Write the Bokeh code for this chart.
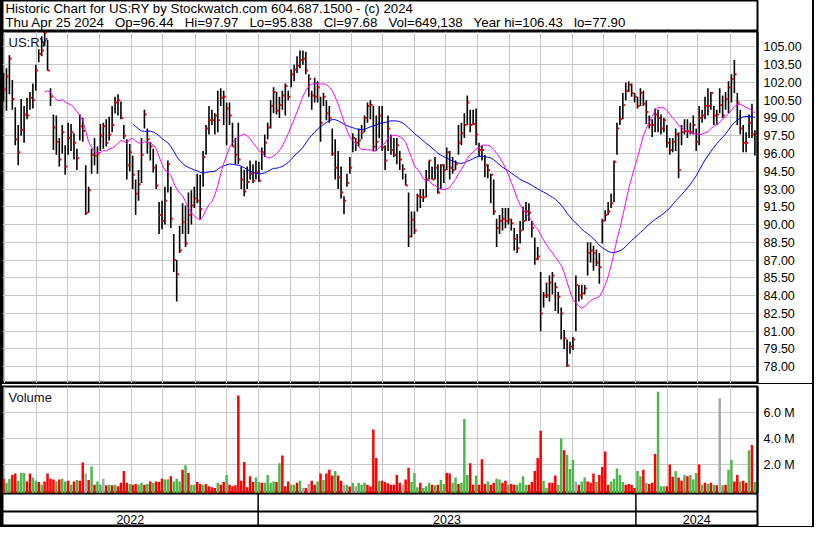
import sys
import pandas as pd
from bokeh.plotting import figure
from bokeh.models import (ColumnDataSource, Range1d, FixedTicker, MonthsTicker,
                          PrintfTickFormatter, Label, Span, Grid, Div)
from bokeh.layouts import column
from bokeh.transform import factor_cmap, dodge
from bokeh.core.properties import value
from bokeh.embed import file_html
from bokeh.resources import INLINE

# ---------------- data ----------------
SP = " \u00a0 "   # a wide gap that SVG does not collapse
title_line1 = "Historic Chart for US:RY by Stockwatch.com 604.687.1500 - (c) 2024"
title_line2 = SP.join(["Thu Apr 25 2024", "Op=96.44", "Hi=97.97", "Lo=95.838",
                       "Cl=97.68", "Vol=649,138", "Year hi=106.43", "lo=77.90"])
symbol = "US:RY"
volume_title = "Volume"

first_date = "2022-04-30"      # first bar
last_date = "2024-04-25"       # last bar
view_start = "2022-04-29"
view_end = "2024-04-27 12:00"

price_ticks = [78.00, 79.50, 81.00, 82.50, 84.00, 85.50, 87.00, 88.50, 90.00, 91.50,
               93.00, 94.50, 96.00, 97.50, 99.00, 100.50, 102.00, 103.50, 105.00]
price_range = (76.58, 106.3)
vol_ticks = [2.0, 4.0, 6.0]
vol_range = (-0.23, 8.0)
years = ["2022", "2023", "2024"]
MA_FAST = 15
MA_SLOW = 45

high = [102.8, 103.2, 104.3, 102.2, 99.9, 98.4, 100.6, 100.0, 100.7, 101.2,
        101.9, 103.5, 104.8, 105.9, 106.4, 105.6, 101.5, 99.3, 99.2, 97.3,
        98.4, 96.7, 98.6, 98.5, 97.7, 96.4, 99.3, 99.0, 95.0, 93.2,
        96.4, 97.3, 96.6, 98.5, 98.6, 98.9, 99.1, 100.0, 100.8, 101.0,
        100.4, 98.4, 97.2, 96.8, 95.8, 93.8, 94.6, 97.3, 99.7, 98.1,
        97.0, 96.4, 95.1, 91.9, 92.0, 93.2, 95.4, 93.2, 89.2, 87.0,
        89.9, 91.8, 91.6, 92.7, 92.9, 93.2, 94.3, 94.2, 96.2, 98.4,
        100.0, 99.7, 99.4, 101.3, 101.5, 101.3, 100.3, 100.3, 98.6, 97.3,
        98.6, 94.9, 94.6, 94.9, 95.4, 95.1, 95.4, 95.3, 96.5, 97.6,
        98.6, 100.5, 101.6, 101.2, 100.8, 101.3, 101.9, 101.3, 103.1, 103.5,
        104.2, 104.7, 104.7, 104.6, 102.7, 101.3, 102.4, 102.1, 100.8, 101.1,
        100.5, 100.0, 98.1, 97.2, 96.2, 94.9, 92.4, 94.3, 95.7, 97.7,
        97.3, 98.1, 98.4, 99.2, 100.3, 100.5, 100.0, 99.2, 100.0, 100.0,
        96.7, 99.2, 97.6, 97.3, 97.3, 96.2, 95.1, 94.3, 92.7, 91.1,
        91.1, 92.6, 93.0, 93.0, 94.6, 95.4, 94.9, 95.7, 95.1, 95.1,
        95.1, 96.5, 96.2, 95.7, 95.4, 98.4, 98.6, 99.4, 100.9, 99.7,
        99.7, 99.8, 96.9, 96.7, 95.9, 95.1, 94.3, 93.8, 90.5, 90.8,
        91.4, 91.4, 91.4, 90.5, 89.7, 89.2, 90.3, 91.5, 91.9, 91.8,
        90.3, 88.9, 88.1, 86.0, 84.3, 85.1, 85.7, 86.0, 85.1, 84.3,
        83.0, 81.1, 80.3, 80.1, 80.5, 85.7, 84.9, 84.9, 84.9, 88.5,
        88.5, 88.2, 87.9, 87.6, 90.5, 91.2, 91.9, 92.6, 95.4, 98.6,
        100.0, 101.1, 102.0, 102.1, 101.9, 101.1, 100.8, 101.5, 101.3, 100.5,
        99.2, 98.9, 99.8, 99.7, 99.3, 99.0, 98.4, 97.3, 97.3, 98.1,
        97.8, 98.4, 98.9, 98.9, 98.6, 99.2, 98.1, 100.0, 99.7, 100.8,
        101.5, 101.2, 100.0, 99.7, 101.5, 100.9, 101.2, 102.1, 102.7, 103.9,
        101.1, 99.7, 98.4, 97.8, 99.3, 100.2, 97.97]

low = [100.4, 99.6, 101.0, 99.7, 96.7, 95.0, 97.5, 96.9, 98.9, 99.7,
       99.8, 101.3, 103.7, 104.2, 105.1, 103.0, 100.0, 96.3, 95.9, 94.9,
       96.0, 94.2, 95.9, 96.2, 95.5, 94.6, 97.1, 97.0, 90.8, 91.0,
       94.3, 95.0, 94.3, 96.2, 96.4, 96.6, 97.1, 97.8, 99.4, 99.2,
       98.9, 97.2, 93.8, 94.5, 93.0, 90.8, 92.0, 93.5, 98.1, 96.0,
       95.4, 94.4, 93.0, 89.2, 89.6, 90.0, 92.7, 89.7, 86.0, 83.5,
       87.6, 89.2, 88.1, 89.2, 90.0, 91.4, 91.8, 90.4, 93.2, 95.9,
       97.6, 98.4, 97.6, 97.8, 100.0, 98.4, 96.7, 98.4, 96.6, 95.1,
       95.1, 93.0, 92.4, 93.0, 93.8, 93.5, 93.8, 93.6, 94.6, 95.7,
       97.2, 98.1, 99.4, 99.3, 99.0, 99.7, 99.2, 100.5, 101.6, 102.1,
       102.8, 103.2, 103.5, 102.7, 100.8, 99.7, 100.3, 100.3, 97.0, 100.0,
       98.8, 98.6, 95.8, 93.8, 93.0, 92.2, 90.9, 93.2, 94.3, 96.1,
       96.2, 96.6, 97.2, 97.8, 98.6, 98.9, 96.2, 96.2, 97.3, 96.2,
       94.6, 96.2, 95.9, 95.7, 95.1, 94.6, 93.8, 93.3, 88.1, 88.9,
       89.2, 91.1, 91.4, 91.9, 92.3, 93.8, 93.8, 93.8, 92.6, 93.0,
       93.5, 94.6, 93.8, 94.3, 94.6, 95.9, 96.7, 97.3, 98.4, 97.8,
       98.4, 96.7, 95.7, 95.4, 94.0, 93.9, 91.8, 90.8, 88.1, 89.2,
       89.5, 89.7, 90.0, 89.5, 87.8, 87.6, 88.4, 89.5, 90.3, 90.3,
       88.9, 86.6, 87.0, 81.0, 83.0, 83.8, 83.5, 84.1, 82.7, 82.5,
       80.3, 79.5, 78.0, 79.1, 79.4, 81.0, 83.5, 83.7, 84.1, 85.7,
       86.8, 86.1, 86.5, 85.0, 88.4, 90.3, 90.8, 91.4, 91.9, 95.9,
       98.4, 98.9, 100.5, 101.2, 100.8, 100.3, 99.8, 100.0, 100.0, 98.5,
       98.1, 97.4, 97.8, 97.8, 97.6, 97.8, 96.5, 95.9, 96.1, 96.2,
       93.9, 96.7, 97.6, 97.3, 97.6, 97.6, 96.2, 96.7, 98.6, 98.9,
       99.2, 99.7, 98.4, 98.4, 99.4, 99.0, 99.7, 99.4, 100.3, 101.1,
       98.4, 97.6, 96.1, 96.1, 97.3, 97.3, 95.84]

close = [101.4, 102.5, 104.0, 100.6, 97.2, 96.1, 98.0, 99.3, 99.2, 100.7,
         100.5, 103.0, 104.4, 104.7, 106.2, 103.0, 100.8, 98.2, 97.0, 95.5,
         97.8, 94.9, 97.3, 97.8, 96.9, 95.6, 98.3, 97.9, 91.0, 92.9,
         95.9, 95.8, 96.0, 97.5, 98.3, 96.9, 97.6, 98.4, 100.3, 100.5,
         99.0, 97.5, 95.0, 96.1, 94.2, 92.6, 93.4, 95.9, 99.3, 97.2,
         96.6, 94.8, 93.3, 90.8, 90.3, 92.0, 95.1, 90.5, 87.0, 85.8,
         87.8, 90.2, 88.4, 90.8, 91.6, 92.2, 92.0, 91.3, 95.7, 98.1,
         98.8, 98.8, 99.2, 98.8, 100.7, 100.8, 99.8, 99.2, 96.6, 95.9,
         95.5, 93.8, 92.8, 93.6, 94.3, 93.7, 94.4, 93.7, 96.1, 96.9,
         98.2, 100.0, 101.2, 99.6, 100.1, 100.9, 101.7, 100.8, 102.7, 103.1,
         103.4, 103.9, 104.0, 103.0, 102.3, 100.9, 100.8, 101.6, 98.6, 100.8,
         99.4, 99.0, 96.0, 94.8, 94.0, 92.7, 92.0, 93.5, 94.8, 97.3,
         96.9, 97.1, 97.8, 99.0, 100.0, 100.1, 96.6, 97.0, 99.2, 96.5,
         95.4, 98.1, 96.3, 95.9, 96.7, 95.5, 94.7, 93.3, 89.0, 90.4,
         89.5, 92.4, 92.3, 92.3, 93.8, 95.4, 93.8, 94.8, 92.7, 95.0,
         94.6, 96.1, 94.8, 94.6, 95.1, 96.9, 97.7, 98.4, 100.3, 98.4,
         98.5, 97.6, 96.3, 96.3, 95.0, 94.6, 94.2, 91.1, 89.7, 90.3,
         90.5, 90.3, 90.4, 90.1, 88.8, 88.0, 89.5, 90.3, 91.1, 91.0,
         89.7, 87.1, 87.3, 82.5, 84.0, 84.0, 85.1, 85.7, 84.7, 83.9,
         82.5, 80.4, 78.1, 79.7, 80.3, 84.9, 84.0, 84.2, 84.6, 87.6,
         87.8, 87.6, 86.8, 86.4, 90.3, 90.8, 91.1, 91.8, 95.3, 98.1,
         98.9, 100.1, 101.3, 101.8, 101.1, 100.8, 100.0, 101.1, 100.2, 99.5,
         98.4, 98.4, 99.3, 99.0, 98.1, 98.8, 96.9, 96.3, 97.0, 97.6,
         94.6, 97.8, 97.9, 97.9, 97.8, 98.4, 97.0, 99.0, 99.2, 100.0,
         100.0, 101.1, 99.2, 99.3, 100.1, 99.2, 100.6, 101.6, 102.3, 102.7,
         100.3, 98.1, 96.9, 96.9, 98.6, 97.6, 97.68]

# volume in millions of shares
volume_m = [0.9, 0.6, 0.9, 1.2, 1.3, 0.75, 1.35, 1.35, 0.7, 1.3,
            1.0, 0.75, 0.65, 0.45, 0.7, 1.3, 0.9, 0.85, 0.7, 0.85,
            0.9, 0.7, 0.75, 0.45, 0.7, 0.8, 0.75, 2.15, 1.3, 0.8,
            1.85, 0.45, 0.7, 0.45, 0.9, 0.4, 0.45, 0.4, 0.45, 0.33,
            0.6, 1.5, 0.6, 0.5, 0.45, 0.5, 0.45, 0.6, 0.45, 0.5,
            0.7, 0.6, 0.7, 0.65, 0.9, 0.85, 0.85, 1.1, 0.7, 0.9,
            0.7, 1.6, 1.95, 1.35, 0.45, 0.45, 0.65, 0.5, 0.45, 0.5,
            0.33, 0.25, 0.2, 0.6, 0.45, 0.65, 1.2, 0.45, 0.33, 0.4,
            7.3, 0.75, 2.2, 0.25, 1.1, 0.65, 1.0, 0.65, 0.6, 0.6,
            1.2, 0.6, 0.7, 0.65, 2.1, 2.7, 0.33, 0.7, 0.45, 0.45,
            0.6, 0.75, 0.2, 0.2, 0.5, 0.75, 0.45, 0.7, 1.3, 0.8,
            1.3, 1.6, 1.15, 1.5, 1.15, 0.75, 0.45, 0.45, 0.3, 0.6,
            0.33, 0.6, 0.45, 0.6, 0.45, 0.3, 4.7, 2.5, 0.75, 0.75,
            0.65, 0.55, 0.45, 0.45, 1.2, 0.6, 0.45, 0.85, 1.75, 0.65,
            1.35, 0.25, 0.6, 0.2, 0.33, 0.6, 0.45, 0.4, 0.45, 0.8,
            0.5, 1.35, 1.3, 0.6, 1.0, 0.5, 0.6, 5.5, 1.2, 2.1,
            0.45, 1.15, 0.45, 2.4, 0.5, 0.7, 0.45, 0.6, 0.9, 0.85,
            0.6, 0.75, 0.45, 0.5, 0.45, 0.45, 0.6, 1.1, 0.45, 0.45,
            0.65, 1.5, 2.5, 4.6, 0.75, 0.2, 0.6, 0.6, 1.15, 0.45,
            4.0, 3.1, 2.75, 1.65, 2.35, 0.7, 0.45, 0.7, 1.0, 0.7,
            0.6, 1.3, 0.65, 1.2, 1.8, 3.0, 0.45, 0.7, 0.9, 1.7,
            1.2, 0.65, 0.45, 0.5, 0.45, 0.2, 1.5, 1.1, 1.6, 0.6,
            0.5, 0.6, 2.8, 7.6, 0.33, 0.33, 0.33, 2.0, 1.05, 1.5,
            1.0, 0.75, 1.2, 1.1, 1.2, 0.85, 1.35, 2.0, 0.45, 0.6,
            0.5, 0.6, 0.45, 0.4, 7.1, 0.4, 0.45, 1.6, 2.35, 0.7,
            1.2, 0.7, 0.75, 0.6, 3.1, 3.5, 0.65]

# day direction: d = down (red), u = up (green), n = unchanged (grey)
direction = list(
    "duudduuudd" "uududdddud" "uudududdnd" "uduundudud" "dddudduudu"
    "duddduuduu" "ududuuddud" "dddudduddd" "dddddduudu" "uuududdduu"
    "dundnddudu" "ddduddnudu" "nuuuddddud" "ddddddnddu" "uuduuududu"
    "udduuduuud" "dudddudduu" "ddudduuuud" "dddduudddu" "uduuunduud"
    "ddudddduuu" "uudddduudu" "ddduuudddu" "dduduuudud" "ududnuduud"
    "duddudu")

# ---------------- styling ----------------
FONT = "Liberation Sans"
GRID = "#c8c8c8"
RED = "#ff0000"
GREEN = "#4cb84c"
GREY = "#a8a8a8"
W = 810          # figure width (page border adds 4px)
AXW = 55         # right axis area

n = min(len(high), len(low), len(close), len(volume_m), len(direction))
print("lengths", len(high), len(low), len(close), len(volume_m), len(direction), file=sys.stderr)

dates = pd.date_range(first_date, last_date, periods=n)
closes = pd.Series(close[:n])
src = ColumnDataSource(dict(
    date=dates, high=high[:n], low=low[:n], close=close[:n],
    ma_fast=closes.rolling(MA_FAST).mean().values,
    ma_slow=closes.rolling(MA_SLOW).mean().values,
    vol=volume_m[:n], dir=direction[:n]))

xr = Range1d(pd.Timestamp(view_start), pd.Timestamp(view_end))
DAY_MS = 86400000.0


def base_fig(height, y_range, right_axis, top=0):
    f = figure(width=W, height=height, x_range=xr, y_range=y_range,
               x_axis_type="datetime", x_axis_location=None,
               y_axis_location="right" if right_axis else None,
               toolbar_location=None, output_backend="svg",
               min_border_left=0, min_border_right=AXW,
               min_border_top=top, min_border_bottom=0,
               outline_line_color="black", outline_line_width=2,
               background_fill_color="white", border_fill_color="white")
    f.xgrid.visible = False
    return f


def month_grid(f):
    f.add_layout(Grid(dimension=0, ticker=MonthsTicker(months=list(range(1, 13))),
                      grid_line_color=GRID, grid_line_width=1), "center")


def style_axis(f, ticks, fmt):
    ax = f.yaxis[0]
    ax.ticker = FixedTicker(ticks=ticks)
    ax.formatter = PrintfTickFormatter(format=fmt)
    ax.axis_line_color = "black"
    ax.axis_line_width = 2
    ax.major_tick_out = 0
    ax.major_tick_in = 0
    ax.minor_tick_out = 0
    ax.minor_tick_in = 0
    ax.major_label_standoff = 6
    ax.major_label_text_font = FONT
    ax.major_label_text_font_size = "12.5px"
    ax.major_label_text_color = "black"
    f.ygrid.grid_line_color = GRID
    f.ygrid.grid_line_width = 1


# ---- header ----
H = figure(width=W, height=31, x_range=Range1d(0, 1), y_range=Range1d(0, 1),
           x_axis_location=None, y_axis_location=None, toolbar_location=None,
           output_backend="svg", min_border_left=0, min_border_right=0,
           min_border_top=0, min_border_bottom=0,
           outline_line_color="black", outline_line_width=2)
H.xgrid.visible = False
H.ygrid.visible = False
H.add_layout(Label(x=3, y=23, x_units="screen", y_units="screen", text=title_line1,
                   text_font=FONT, text_font_size="13.3px", text_color="black",
                   text_baseline="middle"))
H.add_layout(Label(x=3, y=9, x_units="screen", y_units="screen", text=title_line2,
                   text_font=FONT, text_font_size="13.3px", text_color="black",
                   text_baseline="middle"))

# ---- price panel ----
P = base_fig(352, Range1d(*price_range), True)
month_grid(P)
style_axis(P, price_ticks, "%.2f")
P.add_layout(Label(x=6, y=352 - 11, x_units="screen", y_units="screen", text=symbol,
                   text_font=FONT, text_font_size="13px", text_color="#101030",
                   text_baseline="middle", level="underlay"))
P.segment(x0="date", y0="low", x1="date", y1="high", source=src,
          line_color="black", line_width=1.6)
P.rect(x=dodge("date", 1.2 * DAY_MS), y="close", width=2, height=2, width_units="screen",
       height_units="screen", source=src, fill_color=RED, line_color=None)
P.line("date", "ma_slow", source=src, line_color="#0000ff", line_width=1)
P.line("date", "ma_fast", source=src, line_color="#ff00ff", line_width=1)

# thin rule that separates the two panels across the whole width
rule = Div(width=W, height=1, margin=0, styles={"background-color": "black"})

# ---- volume panel ----
V = base_fig(109, Range1d(*vol_range), True, top=2)
month_grid(V)
style_axis(V, vol_ticks, "%.1f M")
V.add_layout(Label(x=6, y=107 - 11, x_units="screen", y_units="screen", text=volume_title,
                   text_font=FONT, text_font_size="13px", text_color="#101030",
                   text_baseline="middle", level="underlay"))
step_ms = (dates[1] - dates[0]).total_seconds() * 1000.0
V.vbar(x="date", top="vol", bottom=vol_range[0], width=step_ms * 0.85, source=src,
       fill_color=factor_cmap("dir", palette=[RED, GREEN, GREY], factors=["d", "u", "n"]),
       line_color=None)

# ---- date band ----
D = base_fig(33, Range1d(0, 33), False)
D.ygrid.visible = False
for yr in years[1:]:
    D.add_layout(Span(location=pd.Timestamp(f"{yr}-01-01").value / 1e6, dimension="height",
                      line_color="black", line_width=1.5))
D.add_layout(Span(location=15, dimension="width", line_color="black", line_width=2))
vs, ve = pd.Timestamp(view_start), pd.Timestamp(view_end)
mids = []
for yr in years:
    a = max(vs, pd.Timestamp(f"{yr}-01-01"))
    b = min(ve, pd.Timestamp(f"{int(yr) + 1}-01-01"))
    mids.append(a + (b - a) / 2)
D.text(x="x", y="y", text="t",
       source=ColumnDataSource(dict(x=mids, y=[7.5] * len(years), t=years)),
       text_align="center", text_baseline="middle", text_font=value(FONT),
       text_font_size="12.5px", text_color="black")

layout = column(H, P, rule, V, D, spacing=0,
                styles={"border-left": "2px solid black",
                        "border-right": "2px solid black",
                        "border-bottom": "1px solid black"})

open("out.html", "w").write(file_html(layout, INLINE, title="US:RY"))
